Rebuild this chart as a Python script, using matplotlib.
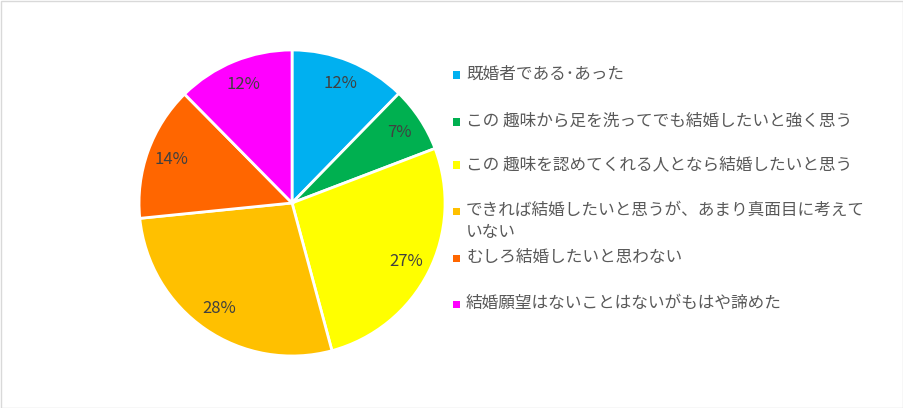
import matplotlib.pyplot as plt
from matplotlib.patches import Rectangle

plt.rcParams['font.family'] = ['Noto Sans CJK JP', 'DejaVu Sans']

labels = ['既婚者である･あった',
          'この 趣味から足を洗ってでも結婚したいと強く思う',
          'この 趣味を認めてくれる人となら結婚したいと思う',
          'できれば結婚したいと思うが、あまり真面目に考えて\nいない',
          'むしろ結婚したいと思わない',
          '結婚願望はないことはないがもはや諦めた']
values = [12.3, 6.9, 26.6, 27.6, 14.2, 12.4]
colors = ['#00B0F0', '#00B050', '#FFFF00', '#FFC000', '#FF6600', '#FF00FF']
legend_y = [75, 122, 165, 211, 258, 304]  # pixel rows of legend entries

fig = plt.figure(figsize=(9.04, 4.08), dpi=100)
ax = fig.add_axes([0.1538, 0.1275, 0.3385, 0.75])

wedges, texts, autotexts = ax.pie(values, colors=colors, startangle=90, counterclock=False,
                                  autopct='%.0f%%', pctdistance=0.84,
                                  wedgeprops=dict(edgecolor='white', linewidth=2),
                                  textprops=dict(color='#404040', fontsize=12))
ax.set_xlim(-1.0, 1.0)
ax.set_ylim(-1.0, 1.0)
ax.set_aspect('equal')

# legend drawn by hand so the wrapped entry keeps even spacing
for lab, col, py in zip(labels, colors, legend_y):
    y = 1 - py / 408
    fig.patches.append(Rectangle((453 / 904, y - 3.5 / 408), 7 / 904, 7 / 408,
                                 transform=fig.transFigure, facecolor=col, edgecolor='none'))
    fig.text(466 / 904, y + 9 / 408, lab, fontsize=12, color='#595959', va='top', linespacing=1.35)

fig.patches.append(Rectangle((0.5 / 904, 0.5 / 408), 1 - 1.5 / 904, 1 - 1.5 / 408,
                             transform=fig.transFigure, facecolor='none', edgecolor='#D9D9D9', linewidth=1))

plt.savefig('out.png', dpi=100)
